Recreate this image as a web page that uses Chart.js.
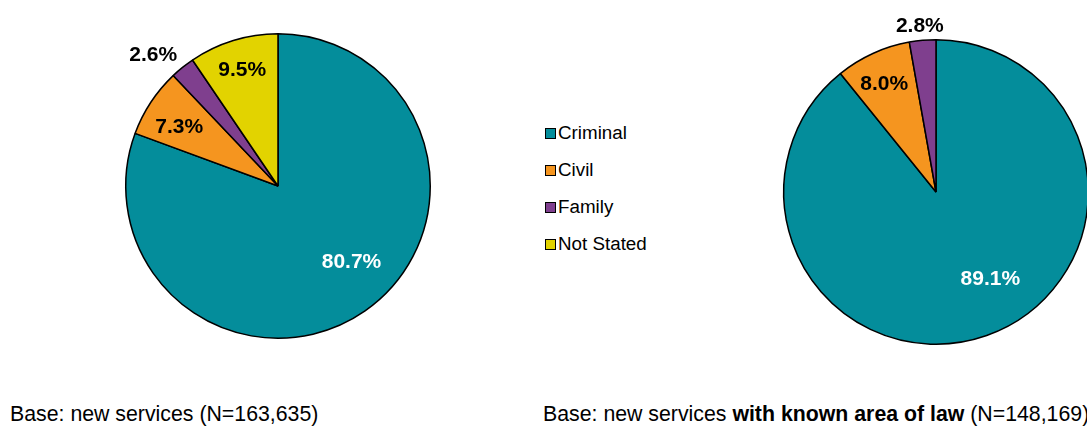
<!DOCTYPE html>
<html>
<head>
<meta charset="utf-8">
<script src="https://cdn.jsdelivr.net/npm/chart.js@4.4.1/dist/chart.umd.min.js"></script>
<style>
  html, body { margin: 0; padding: 0; background: #fff; }
  body { width: 1087px; height: 426px; position: relative; overflow: hidden; font-family: "Liberation Sans", Arial, sans-serif; }
  .pie { position: absolute; }
  #legend { position: absolute; left: 545px; top: 121px; font-size: 18.8px; color: #000; }
  #legend div { height: 37px; line-height: 24px; white-space: nowrap; }
  #legend span.box { display: inline-block; width: 9px; height: 9px; border: 1.5px solid #000; margin-right: 2px; vertical-align: 0px; }
  .base { position: absolute; top: 402px; font-size: 21.3px; color: #000; white-space: nowrap; }
</style>
</head>
<body>
<canvas id="pieAll" class="pie" width="400" height="400" style="left:78px; top:-14px;"></canvas>
<canvas id="pieKnown" class="pie" width="400" height="400" style="left:736px; top:-8px;"></canvas>
<div id="legend"></div>
<div class="base" style="left:10px;">Base: new services (N=163,635)</div>
<div class="base" style="left:543px;">Base: new services <b>with known area of law</b> (N=148,169)</div>
<script>
// areas of law and their shares (%)
var categories = ['Criminal', 'Civil', 'Family', 'Not Stated'];
var allServices = [80.7, 7.3, 2.6, 9.5];
var knownCategories = ['Criminal', 'Civil', 'Family'];
var knownServices = [89.1, 8.0, 2.8];

var colours = ['#048d9b', '#f5951f', '#7f3f8e', '#e2d300'];

// label placement: distance from centre as a share of the radius, plus angle nudge in degrees
var allLabelPos = [[0.69, -9.5], [0.76, -2], [1.19, -4.7], [0.8, 0]];
var knownLabelPos = [[0.67, -12.7], [0.79, -1], [1.1, -0.5]];
var allLabelColour = ['#fff', '#000', '#000', '#000'];
var knownLabelColour = ['#fff', '#000', '#000'];

var sliceLabels = {
    id: 'sliceLabels',
    afterDatasetsDraw: function (chart, args, opts) {
        var ctx = chart.ctx;
        var meta = chart.getDatasetMeta(0);
        var values = chart.data.datasets[0].data;
        ctx.save();
        ctx.font = 'bold 21px "Liberation Sans", Arial, sans-serif';
        ctx.textAlign = 'center';
        ctx.textBaseline = 'middle';
        meta.data.forEach(function (arc, i) {
            var p = arc.getProps(['x', 'y', 'startAngle', 'endAngle', 'outerRadius'], true);
            var mid = (p.startAngle + p.endAngle) / 2 + opts.pos[i][1] * Math.PI / 180;
            var r = p.outerRadius * opts.pos[i][0];
            ctx.fillStyle = opts.colours[i];
            ctx.fillText(values[i].toFixed(1) + '%', p.x + Math.cos(mid) * r, p.y + Math.sin(mid) * r + 1);
        });
        ctx.restore();
    }
};

function makePie(id, labels, values, pos, labelColours) {
    return new Chart(document.getElementById(id), {
        type: 'pie',
        data: {
            labels: labels,
            datasets: [{
                data: values,
                backgroundColor: colours.slice(0, values.length),
                borderColor: '#000',
                borderWidth: 1.5
            }]
        },
        options: {
            responsive: false,
            animation: false,
            layout: { padding: 47 },
            plugins: {
                legend: { display: false },
                tooltip: { enabled: false },
                sliceLabels: { pos: pos, colours: labelColours }
            }
        },
        plugins: [sliceLabels]
    });
}

makePie('pieAll', categories, allServices, allLabelPos, allLabelColour);
makePie('pieKnown', knownCategories, knownServices, knownLabelPos, knownLabelColour);

// shared legend between the two pies
var legend = document.getElementById('legend');
categories.forEach(function (name, i) {
    var row = document.createElement('div');
    var box = document.createElement('span');
    box.className = 'box';
    box.style.background = colours[i];
    row.appendChild(box);
    row.appendChild(document.createTextNode(name));
    legend.appendChild(row);
});
</script>
</body>
</html>
